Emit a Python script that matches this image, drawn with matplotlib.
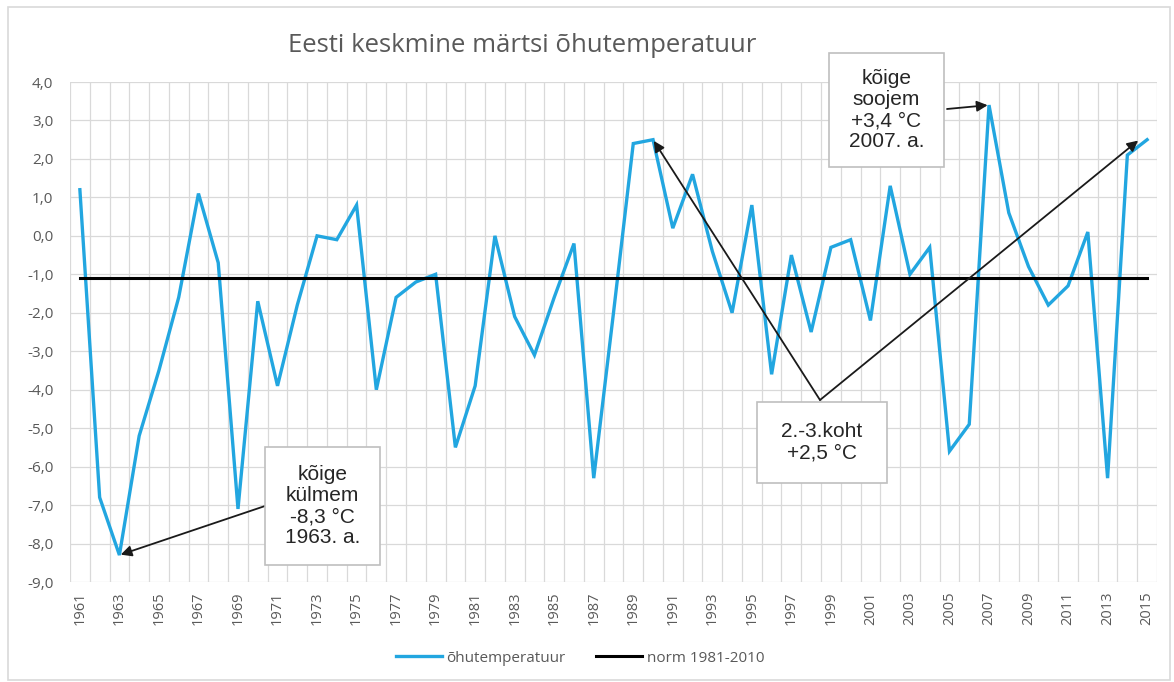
import matplotlib.pyplot as plt
import numpy as np
from matplotlib.patches import Rectangle
from matplotlib.ticker import FixedLocator, FuncFormatter

# ── Data ─────────────────────────────────────────────────────────────────────
years = list(range(1961, 2016))
temps = [
    1.2, -6.8, -8.3, -5.2, -3.5, -1.6, 1.1, -0.7, -7.1, -1.7,   # 1961-1970
    -3.9, -1.8, 0.0, -0.1, 0.8, -4.0, -1.6, -1.2, -1.0, -5.5,   # 1971-1980
    -3.9, 0.0, -2.1, -3.1, -1.6, -0.2, -6.3, -2.0, 2.4, 2.5,    # 1981-1990
    0.2, 1.6, -0.4, -2.0, 0.8, -3.6, -0.5, -2.5, -0.3, -0.1,    # 1991-2000
    -2.2, 1.3, -1.0, -0.3, -5.6, -4.9, 3.4, 0.6, -0.8, -1.8,    # 2001-2010
    -1.3, 0.1, -6.3, 2.1, 2.5,                                  # 2011-2015
]
norm_value = -1.1
tick_years = years[::2]
y_ticks = np.arange(-9, 5, 1)

TITLE = "Eesti keskmine märtsi õhutemperatuur"
SERIES_LABEL = "õhutemperatuur"
NORM_LABEL = "norm 1981-2010"
BOX_COLD = "kõige\nkülmem\n-8,3 °C\n1963. a."
BOX_WARM = "kõige\nsoojem\n+3,4 °C\n2007. a."
BOX_2ND = "2.-3.koht\n+2,5 °C"

# ── Style ────────────────────────────────────────────────────────────────────
BLUE = "#22a6e0"
GRID = "#d9d9d9"
TXT = "#595959"
W, H = 1174, 682

plt.rcParams["font.family"] = ["Open Sans", "DejaVu Sans"]

fig = plt.figure(figsize=(W / 100, H / 100), dpi=100)
fig.patch.set_facecolor("white")
ax = fig.add_axes([70 / W, 1 - 582 / H, 1087 / W, 500 / H])

# ── Lines ────────────────────────────────────────────────────────────────────
ax.plot(years, temps, color=BLUE, lw=2.4, solid_joinstyle="miter",
        label=SERIES_LABEL, zorder=3)
ax.plot([years[0], years[-1]], [norm_value, norm_value], color="black",
        lw=2.2, label=NORM_LABEL, zorder=4)

# ── Axes ─────────────────────────────────────────────────────────────────────
ax.set_xlim(years[0] - 0.5, years[-1] + 0.5)
ax.set_ylim(y_ticks[0], y_ticks[-1])
ax.set_yticks(y_ticks)
ax.yaxis.set_major_formatter(
    FuncFormatter(lambda v, _: f"{v:.1f}".replace(".", ",")))
ax.set_xticks(tick_years)
ax.set_xticklabels([str(y) for y in tick_years], rotation=90)
ax.xaxis.set_minor_locator(FixedLocator(np.arange(years[0] - 0.5, years[-1] + 1)))
ax.tick_params(axis="both", which="both", length=0, colors=TXT)
ax.tick_params(axis="y", pad=12, labelsize=11)
ax.tick_params(axis="x", pad=7, labelsize=10.5)
ax.grid(axis="y", which="major", color=GRID, lw=0.9)
ax.grid(axis="x", which="minor", color=GRID, lw=0.9)
ax.grid(axis="x", which="major", visible=False)
ax.set_axisbelow(True)
for spine in ax.spines.values():
    spine.set_visible(False)

# ── Title & frame ────────────────────────────────────────────────────────────
fig.text(288 / W, 1 - 45 / H, TITLE, fontsize=18.5, color=TXT,
         ha="left", va="center")
fig.add_artist(Rectangle((8 / W, 1 - 680 / H), 1162 / W, 673 / H,
                         transform=fig.transFigure, fill=False,
                         edgecolor=GRID, lw=1.2))

# ── Legend ───────────────────────────────────────────────────────────────────
fig.legend(loc="center", bbox_to_anchor=(580 / W, 1 - 658 / H), ncol=2,
           frameon=False, fontsize=11, labelcolor=TXT, handlelength=3.0,
           handletextpad=0.3, columnspacing=2.0)

# ── Annotation boxes ─────────────────────────────────────────────────────────
def add_box(x0, y0, x1, y1, text):
    fig.add_artist(Rectangle((x0 / W, 1 - y1 / H), (x1 - x0) / W, (y1 - y0) / H,
                             transform=fig.transFigure, facecolor="white",
                             edgecolor="#bfbfbf", lw=1.2, zorder=5))
    fig.text((x0 + x1) / 2 / W, 1 - (y0 + y1) / 2 / H, text,
             family="Liberation Sans", fontsize=15, color="#262626",
             ha="center", va="center", linespacing=1.15, zorder=6)


add_box(265, 447, 380, 565, BOX_COLD)
add_box(829, 53, 944, 167, BOX_WARM)
add_box(757, 402, 887, 483, BOX_2ND)

arrow = dict(arrowstyle="-|>", color="#1a1a1a", lw=1.3, mutation_scale=16,
             shrinkA=0, shrinkB=1)
i_cold = temps.index(min(temps))
i_warm = temps.index(max(temps))
ax.annotate("", xy=(years[i_cold], temps[i_cold]), xycoords="data",
            xytext=(268, H - 505), textcoords="figure pixels",
            arrowprops=arrow, zorder=7)
ax.annotate("", xy=(years[i_warm], temps[i_warm]), xycoords="data",
            xytext=(947, H - 109), textcoords="figure pixels",
            arrowprops=arrow, zorder=7)
ax.annotate("", xy=(1990, temps[years.index(1990)]), xycoords="data",
            xytext=(820, H - 400), textcoords="figure pixels",
            arrowprops=arrow, zorder=7)
ax.annotate("", xy=(years[-1] - 0.4, temps[-1]), xycoords="data",
            xytext=(820, H - 400), textcoords="figure pixels",
            arrowprops=arrow, zorder=7)

fig.savefig("out.png", dpi=100, facecolor="white")
